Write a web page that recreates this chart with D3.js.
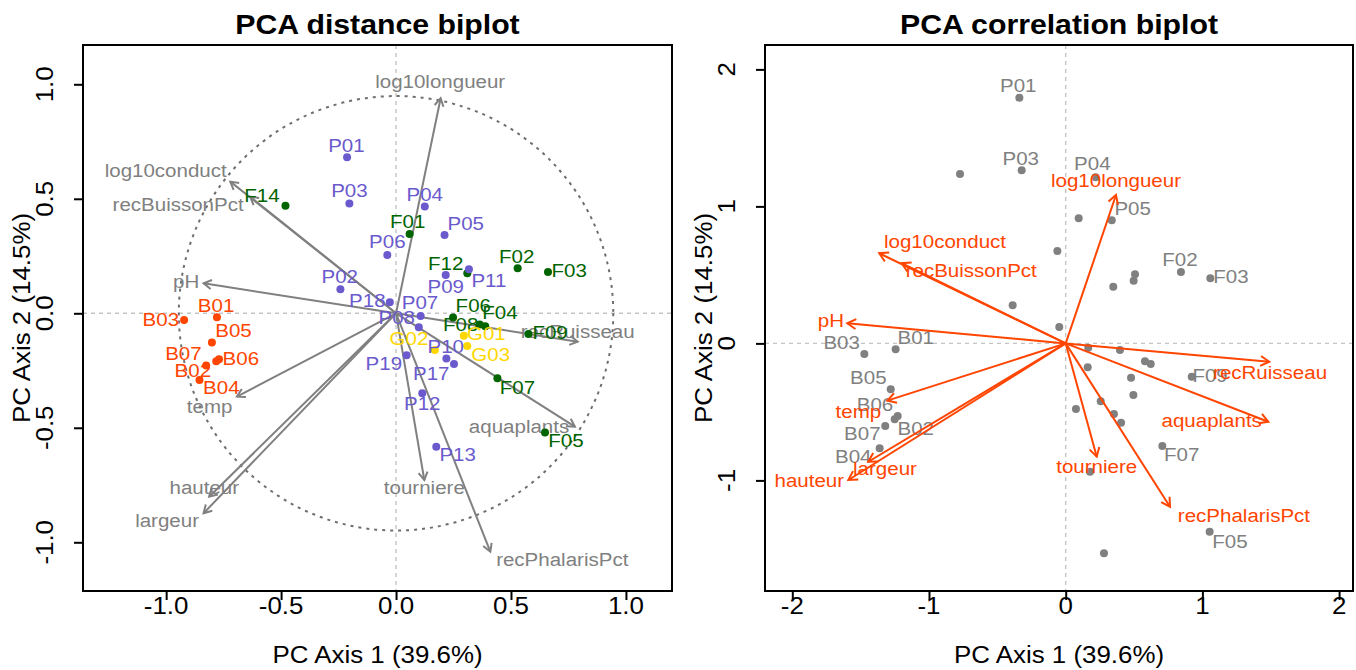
<!DOCTYPE html>
<html><head><meta charset="utf-8">
<script src="https://cdn.jsdelivr.net/npm/d3@7"></script>
<style>body{margin:0;background:#fff} text{font-family:"Liberation Sans",Arial,Helvetica,sans-serif}</style>
</head><body><svg id="c" width="1356" height="670"></svg>
<script>
// ---------- DATA ----------
const siteNames = ["P01","P03","F14","P04","F01","P05","P06","P02","P18","P07","P08","P09","F12","P11","F02","F03","F06","F04","F08","G01","G03","G02","P10","P17","P19","P12","F09","F07","F05","P13","B03","B01","B05","B06","B02","B07","B04"];
// distance biplot (scaling 1) site scores
const distSiteX = [-0.213,-0.203,-0.481,0.125,0.059,0.211,-0.038,-0.242,-0.027,0.107,0.099,0.216,0.310,0.317,0.529,0.661,0.364,0.388,0.248,0.295,0.310,0.169,0.219,0.252,0.046,0.114,0.576,0.441,0.648,0.175,-0.922,-0.779,-0.801,-0.770,-0.782,-0.826,-0.855];
const distSiteY = [0.681,0.480,0.470,0.466,0.346,0.342,0.255,0.105,0.048,-0.012,-0.061,0.167,0.175,0.192,0.197,0.180,-0.049,-0.057,-0.018,-0.098,-0.143,-0.160,-0.197,-0.221,-0.183,-0.349,-0.090,-0.284,-0.521,-0.583,-0.029,-0.017,-0.127,-0.201,-0.209,-0.228,-0.291];
// label anchor (data units) for the distance biplot
const distLabX = [-0.216,-0.203,-0.583,0.125,0.051,0.303,-0.038,-0.245,-0.125,0.104,0.003,0.216,0.216,0.404,0.525,0.753,0.336,0.452,0.281,0.393,0.412,0.056,0.216,0.153,-0.053,0.114,0.670,0.528,0.739,0.268,-1.023,-0.783,-0.707,-0.675,-0.884,-0.925,-0.760];
const distLabY = [0.735,0.537,0.517,0.520,0.400,0.393,0.313,0.160,0.058,0.048,-0.019,0.119,0.218,0.145,0.247,0.186,0.036,0.003,-0.047,-0.087,-0.178,-0.109,-0.146,-0.262,-0.218,-0.393,-0.085,-0.323,-0.556,-0.614,-0.025,0.036,-0.076,-0.197,-0.248,-0.175,-0.323];
// correlation biplot (scaling 2) site scores
const corrSiteX = [-0.339,-0.322,-0.773,0.219,0.095,0.337,-0.061,-0.388,-0.047,0.165,0.161,0.348,0.497,0.507,0.843,1.058,0.580,0.622,0.397,0.478,0.495,0.256,0.353,0.405,0.075,0.178,0.922,0.707,1.053,0.280,-1.473,-1.244,-1.280,-1.229,-1.251,-1.320,-1.361];
const corrSiteY = [1.793,1.264,1.236,1.212,0.913,0.899,0.674,0.278,0.120,-0.031,-0.174,0.414,0.458,0.504,0.521,0.475,-0.131,-0.150,-0.048,-0.250,-0.377,-0.423,-0.515,-0.579,-0.479,-0.936,-0.243,-0.749,-1.374,-1.532,-0.077,-0.043,-0.335,-0.530,-0.554,-0.603,-0.766];
const corrLabNames = ["P01","P03","P04","P05","F02","F03","F09","F07","F05","B03","B01","B05","B06","B07","B02","B04"];
const corrLabX = [-0.347,-0.329,0.195,0.490,0.836,1.209,1.056,0.849,1.202,-1.639,-1.097,-1.444,-1.395,-1.488,-1.097,-1.554];
const corrLabY = [1.886,1.351,1.315,0.986,0.614,0.487,-0.231,-0.807,-1.442,0.005,0.045,-0.247,-0.442,-0.656,-0.620,-0.827];

const varNames = ["log10longueur","log10conduct","recBuissonPct","pH","temp","hauteur","largeur","tourniere","recPhalarisPct","aquaplants","recRuisseau"];
const distVarX = [0.194,-0.721,-0.634,-0.837,-0.692,-0.813,-0.837,0.123,0.410,0.778,0.790];
const distVarY = [0.939,0.575,0.509,0.131,-0.364,-0.801,-0.873,-0.728,-1.041,-0.495,-0.124];
const distVarLabX = [0.192,-1.002,-0.948,-0.913,-0.811,-0.834,-0.996,0.123,0.723,0.535,0.790];
const distVarLabY = [1.011,0.626,0.477,0.138,-0.405,-0.760,-0.903,-0.760,-1.074,-0.492,-0.077];
const corrVarX = [0.368,-1.364,-1.200,-1.598,-1.305,-1.590,-1.444,0.227,0.763,1.482,1.489];
const corrVarY = [1.083,0.658,0.585,0.147,-0.418,-0.997,-0.864,-0.827,-1.192,-0.572,-0.134];
const corrVarLabX = [0.368,-0.883,-0.691,-1.717,-1.517,-1.876,-1.322,0.227,1.304,1.068,1.495];
const corrVarLabY = [1.188,0.747,0.531,0.166,-0.493,-0.997,-0.912,-0.900,-1.253,-0.559,-0.214];

const eqCircleRadius = 0.945;
const distTicks = [-1.0,-0.5,0.0,0.5,1.0];
const distTickLabels = ["-1.0","-0.5","0.0","0.5","1.0"];
const corrXTicks = [-2,-1,0,1,2];
const corrXTickLabels = ["-2","-1","0","1","2"];
const corrYTicks = [-1,0,1,2];
const corrYTickLabels = ["-1","0","1","2"];
const groupColor = {P:"#6A5ACD",F:"#006400",B:"#FF4500",G:"#FFD700"};

// ---------- DRAW ----------
const svg = d3.select("#c");
const SX = 1.08;
const FS_LAB = 19, FS_AX = 24, FS_TITLE = 28;

function txt(g,x,y,s,o){
  o=o||{};
  const t=g.append("text")
    .attr("transform",`translate(${x},${y})${o.rot?" rotate(-90)":""} scale(${SX},1)`)
    .attr("text-anchor",o.anchor||"middle").attr("dy",o.dy||"0.35em")
    .attr("font-size",o.size||FS_LAB).attr("fill",o.fill||"#000")
    .text(s);
  if(o.bold) t.attr("font-weight","bold");
  return t;
}
function arrow(g,x1,y1,x2,y2,color,w,len){
  g.append("line").attr("x1",x1).attr("y1",y1).attr("x2",x2).attr("y2",y2)
    .attr("stroke",color).attr("stroke-width",w);
  const a=Math.atan2(y2-y1,x2-x1), d=Math.PI/6;
  const p1=[x2-len*Math.cos(a-d),y2-len*Math.sin(a-d)], p2=[x2-len*Math.cos(a+d),y2-len*Math.sin(a+d)];
  g.append("path").attr("d",`M${p1}L${x2},${y2}L${p2}`).attr("fill","none")
    .attr("stroke",color).attr("stroke-width",w).attr("stroke-linejoin","miter");
}

function panel(box,xd,yd,xt,xl,yt,yl,title){
  const g=svg.append("g");
  const x=d3.scaleLinear().domain(xd).range([box.x0,box.x1]);
  const y=d3.scaleLinear().domain(yd).range([box.y1,box.y0]);
  g.append("line").attr("x1",box.x0).attr("x2",box.x1).attr("y1",y(0)).attr("y2",y(0))
    .attr("stroke","#c4c4c4").attr("stroke-width",1.4).attr("stroke-dasharray","4,4");
  g.append("line").attr("y1",box.y0).attr("y2",box.y1).attr("x1",x(0)).attr("x2",x(0))
    .attr("stroke","#c4c4c4").attr("stroke-width",1.4).attr("stroke-dasharray","4,4");
  const ax=g.append("g").attr("transform",`translate(0,${box.y1})`)
    .call(d3.axisBottom(x).tickValues(xt).tickSize(9));
  const ay=g.append("g").attr("transform",`translate(${box.x0},0)`)
    .call(d3.axisLeft(y).tickValues(yt).tickSize(9));
  [ax,ay].forEach(a=>{a.select(".domain").remove();
    a.selectAll(".tick line").attr("stroke","#000").attr("stroke-width",2);
    a.selectAll(".tick text").remove();});
  xt.forEach((v,i)=>txt(g,x(v),box.y1+15,xl[i],{size:FS_AX}));
  yt.forEach((v,i)=>txt(g,box.x0-38,y(v),yl[i],{size:FS_AX,rot:true}));
  g.append("rect").attr("x",box.x0).attr("y",box.y0).attr("width",box.x1-box.x0).attr("height",box.y1-box.y0)
    .attr("fill","none").attr("stroke","#000").attr("stroke-width",2);
  txt(g,(box.x0+box.x1)/2,24,title,{size:FS_TITLE,bold:true});
  txt(g,(box.x0+box.x1)/2,655,"PC Axis 1 (39.6%)",{size:FS_AX});
  txt(g,box.x0-61,(box.y0+box.y1)/2,"PC Axis 2 (14.5%)",{size:FS_AX,rot:true});
  return {g,x,y};
}

// Left: distance biplot
const L=panel({x0:83,x1:672,y0:45,y1:591},[-1.3617,1.2004],[-1.2127,1.1716],distTicks,distTickLabels,distTicks,distTickLabels,"PCA distance biplot");
L.g.append("circle").attr("cx",L.x(0)).attr("cy",L.y(0)).attr("r",L.x(eqCircleRadius)-L.x(0))
  .attr("fill","none").attr("stroke","#6e6e6e").attr("stroke-width",2).attr("stroke-dasharray","3,5");
varNames.forEach((n,i)=>{
  arrow(L.g,L.x(0),L.y(0),L.x(distVarX[i]),L.y(distVarY[i]),"#808080",2,9);
});
varNames.forEach((n,i)=>txt(L.g,L.x(distVarLabX[i]),L.y(distVarLabY[i]),n,{fill:"#808080"}));
siteNames.forEach((n,i)=>{
  L.g.append("circle").attr("cx",L.x(distSiteX[i])).attr("cy",L.y(distSiteY[i])).attr("r",4).attr("fill",groupColor[n[0]]);
});
siteNames.forEach((n,i)=>txt(L.g,L.x(distLabX[i]),L.y(distLabY[i]),n,{fill:groupColor[n[0]]}));

// Right: correlation biplot
const R=panel({x0:765,x1:1353,y0:45,y1:591},[-2.1997,2.1017],[-1.8073,2.178],corrXTicks,corrXTickLabels,corrYTicks,corrYTickLabels,"PCA correlation biplot");
siteNames.forEach((n,i)=>{
  R.g.append("circle").attr("cx",R.x(corrSiteX[i])).attr("cy",R.y(corrSiteY[i])).attr("r",4).attr("fill","#808080");
});
corrLabNames.forEach((n,i)=>txt(R.g,R.x(corrLabX[i]),R.y(corrLabY[i]),n,{fill:"#808080"}));
varNames.forEach((n,i)=>{
  arrow(R.g,R.x(0),R.y(0),R.x(corrVarX[i]),R.y(corrVarY[i]),"#FF4500",2,10);
});
varNames.forEach((n,i)=>txt(R.g,R.x(corrVarLabX[i]),R.y(corrVarLabY[i]),n,{fill:"#FF4500"}));
</script>
</body></html>
